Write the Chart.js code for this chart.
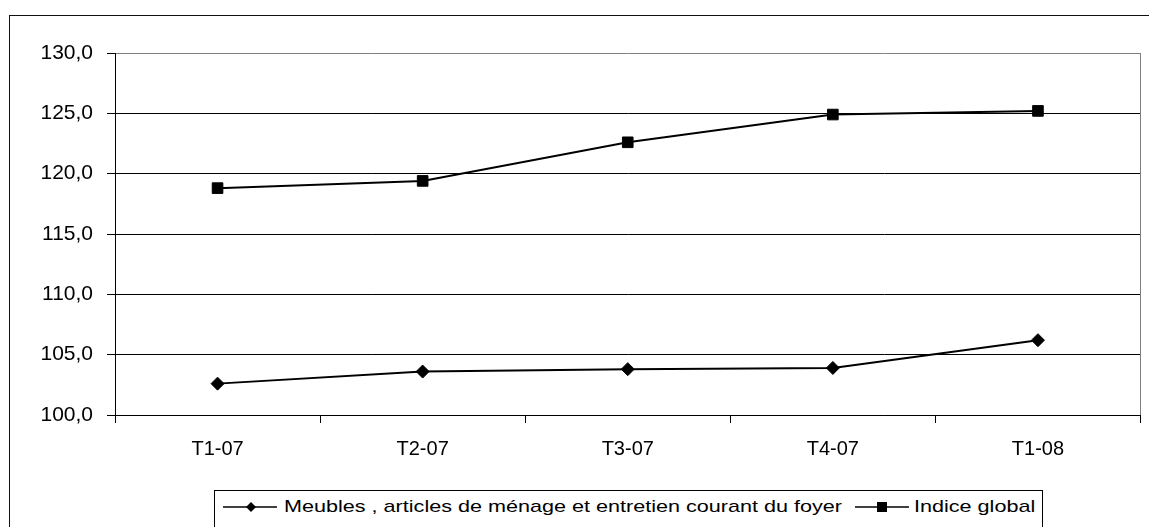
<!DOCTYPE html>
<html>
<head>
<meta charset="utf-8">
<script src="https://cdn.jsdelivr.net/npm/chart.js@4"></script>
<style>
  html, body { margin: 0; padding: 0; background: #fff; overflow: hidden; }
  #cadre { position: absolute; left: 9px; top: 15px; width: 1160px; height: 540px; border: 1px solid #111; }
  #graphique { position: absolute; left: 0; top: 0; }
  #legende { position: absolute; left: 214px; top: 490px; width: 827px; height: 60px; border: 1px solid #000; background: #fff; }
  #legende svg { position: absolute; top: 6px; }
  #legende .texte { position: absolute; top: 6px; height: 20px; line-height: 20px; font-family: "Liberation Sans", Arial, sans-serif; font-size: 17px; color: #000; white-space: nowrap; transform-origin: left center; transform: scaleX(1.27); }
</style>
</head>
<body>
<div id="cadre"></div>
<canvas id="graphique" width="1149" height="527"></canvas>
<div id="legende"></div>
<script>
const trimestres = ["T1-07", "T2-07", "T3-07", "T4-07", "T1-08"];
const meubles = [102.6, 103.6, 103.8, 103.9, 106.2];
const indiceGlobal = [118.8, 119.4, 122.6, 124.9, 125.2];
const nomsSeries = ["Meubles , articles de ménage et entretien courant du foyer", "Indice global"];
const graduations = [100, 105, 110, 115, 120, 125, 130];

const police = "'Liberation Sans', Arial, sans-serif";

// bordure grise à droite de la zone de tracé
const cadreZone = {
  id: "cadreZone",
  afterDraw(chart) {
    const { ctx, chartArea: a } = chart;
    ctx.save();
    ctx.strokeStyle = "#808080";
    ctx.lineWidth = 1;
    ctx.beginPath();
    ctx.moveTo(Math.round(a.right) - 0.5, a.top);
    ctx.lineTo(Math.round(a.right) - 0.5, a.bottom);
    ctx.stroke();
    ctx.restore();
  }
};

const graphique = new Chart(document.getElementById("graphique"), {
  type: "line",
  data: {
    labels: trimestres,
    datasets: [
      {
        label: nomsSeries[0],
        data: meubles,
        borderColor: "#000",
        backgroundColor: "#000",
        borderWidth: 2,
        pointStyle: "rectRot",
        pointRadius: 6.5,
        pointBorderWidth: 1,
        tension: 0
      },
      {
        label: nomsSeries[1],
        data: indiceGlobal,
        borderColor: "#000",
        backgroundColor: "#000",
        borderWidth: 2,
        pointStyle: "rect",
        pointRadius: 7.5,
        pointBorderWidth: 1,
        tension: 0
      }
    ]
  },
  options: {
    responsive: false,
    animation: false,
    events: [],
    layout: { padding: { left: 0, top: 53, right: 4, bottom: 72 } },
    plugins: { legend: { display: false }, tooltip: { enabled: false } },
    scales: {
      x: {
        offset: true,
        grid: { offset: true, drawOnChartArea: false, color: "#000", tickLength: 8 },
        border: { color: "#000", width: 1 },
        ticks: { color: "#000", font: { family: police, size: 20 }, padding: 14, maxRotation: 0 },
        afterFit(s) { s.height = 40; }
      },
      y: {
        min: graduations[0],
        max: graduations[graduations.length - 1],
        ticks: {
          stepSize: graduations[1] - graduations[0],
          color: "#000",
          font: { family: police, size: 21 },
          padding: 14,
          callback: v => v.toFixed(1).replace(".", ",")
        },
        grid: {
          color: c => (c.tick && c.tick.value === graduations[graduations.length - 1]) ? "#808080" : "#000",
          tickColor: "#000",
          tickLength: 8
        },
        border: { color: "#000", width: 1 },
        afterFit(s) { s.width = 115; }
      }
    }
  },
  plugins: [cadreZone]
});

// légende HTML
const legende = document.getElementById("legende");
const marqueurs = [
  '<polygon points="28,5 33,10 28,15 23,10" fill="#000"/>',
  '<rect x="22" y="5" width="10" height="10" fill="#000"/>'
];
const positions = [{ trait: 8, texte: 69 }, { trait: 640, texte: 699 }];
graphique.data.datasets.forEach((ds, i) => {
  legende.insertAdjacentHTML("beforeend",
    `<svg width="56" height="20" style="left:${positions[i].trait}px">
       <line x1="0" y1="10" x2="54" y2="10" stroke="#000" stroke-width="1.5"/>${marqueurs[i]}
     </svg>
     <span class="texte" style="left:${positions[i].texte}px">${ds.label}</span>`);
});
</script>
</body>
</html>
